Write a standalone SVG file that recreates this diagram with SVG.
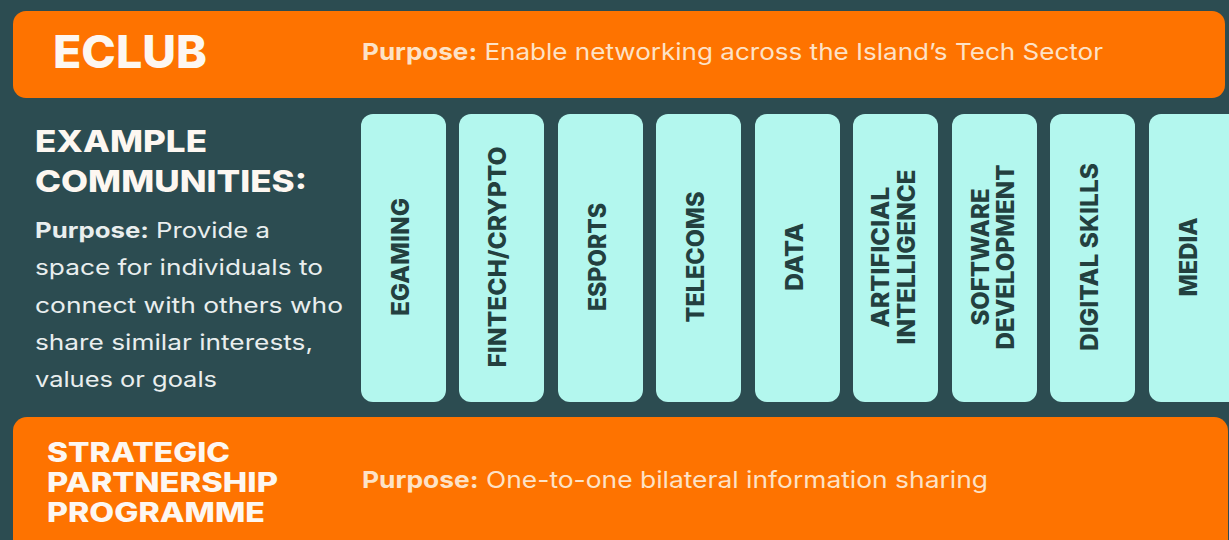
<svg xmlns="http://www.w3.org/2000/svg" width="1229" height="540" viewBox="0 0 1229 540">
<style>
.bar{fill:#fe7300}
.card{fill:#b3f7ee}
.head{font-family:Inter,"Liberation Sans",sans-serif;font-weight:800;fill:#fdf7f1}
.pur{font-family:Inter,"Liberation Sans",sans-serif;font-size:23.5px;font-weight:400;fill:#fde2c6}
.pur .b{font-weight:700}
.para{font-family:Inter,"Liberation Sans",sans-serif;font-size:21.5px;font-weight:400;fill:#e9eeee}
.para .b{font-weight:700}
.ct{font-family:Inter,"Liberation Sans",sans-serif;font-size:24px;font-weight:800;fill:#23403f;text-anchor:middle}
</style>
<rect x="0" y="0" width="1229" height="540" fill="#2c4c51"/>

<g id="eclub">
<rect class="bar" x="13" y="11" width="1212" height="87" rx="13"/>
<text class="head" x="53" y="68" font-size="45" textLength="154" lengthAdjust="spacingAndGlyphs">ECLUB</text>
<text class="pur" x="362" y="60" textLength="741" lengthAdjust="spacingAndGlyphs"><tspan class="b">Purpose:</tspan> Enable networking across the Island’s Tech Sector</text>
</g>

<g id="example-communities">
<text class="head" x="35" y="152" font-size="30" textLength="172" lengthAdjust="spacingAndGlyphs">EXAMPLE</text>
<text class="head" x="35" y="192" font-size="30" textLength="272" lengthAdjust="spacingAndGlyphs">COMMUNITIES:</text>
<text class="para" x="35" y="238" textLength="235" lengthAdjust="spacingAndGlyphs"><tspan class="b">Purpose:</tspan> Provide a</text>
<text class="para" x="35" y="275" textLength="288" lengthAdjust="spacingAndGlyphs">space for individuals to</text>
<text class="para" x="35" y="313" textLength="308" lengthAdjust="spacingAndGlyphs">connect with others who</text>
<text class="para" x="35" y="350" textLength="278" lengthAdjust="spacingAndGlyphs">share similar interests,</text>
<text class="para" x="35" y="387" textLength="182" lengthAdjust="spacingAndGlyphs">values or goals</text>
</g>

<g id="egaming">
<rect class="card" x="361" y="114" width="85" height="288" rx="12"/>
<text class="ct" transform="translate(409,257) rotate(-90)" textLength="118" lengthAdjust="spacingAndGlyphs">EGAMING</text>
</g>
<g id="fintech">
<rect class="card" x="459" y="114" width="85" height="288" rx="12"/>
<text class="ct" transform="translate(506,257) rotate(-90)" textLength="221" lengthAdjust="spacingAndGlyphs">FINTECH/CRYPTO</text>
</g>
<g id="esports">
<rect class="card" x="558" y="114" width="85" height="288" rx="12"/>
<text class="ct" transform="translate(606,257) rotate(-90)" textLength="108" lengthAdjust="spacingAndGlyphs">ESPORTS</text>
</g>
<g id="telecoms">
<rect class="card" x="656" y="114" width="85" height="288" rx="12"/>
<text class="ct" transform="translate(704,257) rotate(-90)" textLength="131" lengthAdjust="spacingAndGlyphs">TELECOMS</text>
</g>
<g id="data">
<rect class="card" x="755" y="114" width="85" height="288" rx="12"/>
<text class="ct" transform="translate(803,257) rotate(-90)" textLength="68" lengthAdjust="spacingAndGlyphs">DATA</text>
</g>
<g id="ai">
<rect class="card" x="853" y="114" width="85" height="288" rx="12"/>
<text class="ct" transform="translate(889,257) rotate(-90)" textLength="141" lengthAdjust="spacingAndGlyphs">ARTIFICIAL</text>
<text class="ct" transform="translate(915,257) rotate(-90)" textLength="175" lengthAdjust="spacingAndGlyphs">INTELLIGENCE</text>
</g>
<g id="software">
<rect class="card" x="952" y="114" width="85" height="288" rx="12"/>
<text class="ct" transform="translate(989,257) rotate(-90)" textLength="137" lengthAdjust="spacingAndGlyphs">SOFTWARE</text>
<text class="ct" transform="translate(1014,257) rotate(-90)" textLength="185" lengthAdjust="spacingAndGlyphs">DEVELOPMENT</text>
</g>
<g id="digital-skills">
<rect class="card" x="1050" y="114" width="85" height="288" rx="12"/>
<text class="ct" transform="translate(1098,257) rotate(-90)" textLength="188" lengthAdjust="spacingAndGlyphs">DIGITAL SKILLS</text>
</g>
<g id="media">
<rect class="card" x="1149" y="114" width="95" height="288" rx="12"/>
<text class="ct" transform="translate(1197,257) rotate(-90)" textLength="79" lengthAdjust="spacingAndGlyphs">MEDIA</text>
</g>

<g id="strategic-partnership">
<rect class="bar" x="13" y="417" width="1215" height="140" rx="14"/>
<text class="head" x="47" y="462" font-size="27" textLength="183" lengthAdjust="spacingAndGlyphs">STRATEGIC</text>
<text class="head" x="47" y="492" font-size="27" textLength="231" lengthAdjust="spacingAndGlyphs">PARTNERSHIP</text>
<text class="head" x="47" y="522" font-size="27" textLength="218" lengthAdjust="spacingAndGlyphs">PROGRAMME</text>
<text class="pur" x="362" y="488" textLength="626" lengthAdjust="spacingAndGlyphs"><tspan class="b">Purpose:</tspan> One-to-one bilateral information sharing</text>
</g>
</svg>
